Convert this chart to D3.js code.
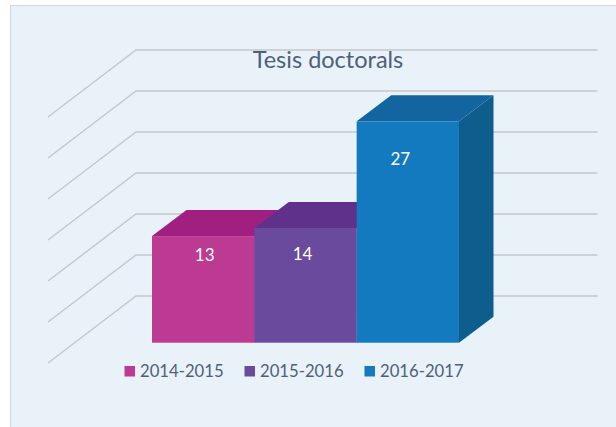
<!DOCTYPE html>
<html>
<head>
<meta charset="utf-8">
<script src="https://cdn.jsdelivr.net/npm/d3@7"></script>
<style>
    html, body { margin: 0; padding: 0; background: #fff; }
    svg { display: block; }
    text { font-family: Lato, "Open Sans", sans-serif; }
</style>
</head>
<body>
<div id="chart"></div>
<script>
var categories = ["2014-2015", "2015-2016", "2016-2017"];
var values = [13, 14, 27];
var chartTitle = "Tesis doctorals";
var valueTicks = [0, 5, 10, 15, 20, 25, 30];

var frontColors = ["#bd3a92", "#6a4a9c", "#147abf"];
var topColors = ["#a21f82", "#5f318a", "#12659f"];
var sideColors = ["#8a1c6c", "#4f2c7a", "#0f5d8d"];

var width = 616, height = 427;

var svg = d3.select("#chart").append("svg")
    .attr("width", width)
    .attr("height", height);

// panel
svg.append("rect")
    .attr("x", 10.5)
    .attr("y", 5.5)
    .attr("width", width)
    .attr("height", height)
    .attr("fill", "#e9f2f9")
    .attr("stroke", "#d6dadc")
    .attr("stroke-width", 1.2);

// back wall, value 0 sits at the back of the floor
var yScale = d3.scaleLinear().domain([0, 30]).range([296, 50]);

var xScale = d3.scaleBand()
    .domain(categories)
    .range([152, 459]);

// depth of the walls and of the bars
var wallDepth = {x: 88, y: 67};
var barDepth = {x: 34.5, y: 26};
var barShift = 46.7;

var grid = svg.append("g").attr("class", "grid");

grid.selectAll("polyline")
    .data(valueTicks)
    .enter().append("polyline")
    .attr("points", function(d) {
        var y = yScale(d);
        return [[136 - wallDepth.x, y + wallDepth.y], [136, y], [597.5, y]].join(" ");
    })
    .attr("fill", "none")
    .attr("stroke", "#c5c7c7")
    .attr("stroke-width", 1.4);

var data = categories.map(function(c, i) {
    return {category: c, value: values[i], i: i};
});

var bars = svg.selectAll(".bar")
    .data(data)
    .enter().append("g")
    .attr("class", "bar");

function barBox(d) {
    var x0 = xScale(d.category);
    return {
        x0: x0,
        x1: x0 + xScale.bandwidth(),
        top: yScale(d.value) + barShift,
        bottom: yScale(0) + barShift
    };
}

// side
bars.append("polygon")
    .attr("points", function(d) {
        var b = barBox(d);
        return [[b.x1, b.top], [b.x1 + barDepth.x, b.top - barDepth.y],
            [b.x1 + barDepth.x, b.bottom - barDepth.y], [b.x1, b.bottom]].join(" ");
    })
    .attr("fill", function(d) { return sideColors[d.i]; });

// top
bars.append("polygon")
    .attr("points", function(d) {
        var b = barBox(d);
        return [[b.x0, b.top], [b.x0 + barDepth.x, b.top - barDepth.y],
            [b.x1 + barDepth.x, b.top - barDepth.y], [b.x1, b.top]].join(" ");
    })
    .attr("fill", function(d) { return topColors[d.i]; });

// front
bars.append("rect")
    .attr("x", function(d) { return barBox(d).x0; })
    .attr("y", function(d) { return barBox(d).top; })
    .attr("width", xScale.bandwidth())
    .attr("height", function(d) { var b = barBox(d); return b.bottom - b.top; })
    .attr("fill", function(d) { return frontColors[d.i]; });

// data labels were placed by hand in the original
var labelOffset = [{x: 1.5, y: 24.5}, {x: -3, y: 32.5}, {x: -7.5, y: 44}];

svg.selectAll(".value-label")
    .data(data)
    .enter().append("text")
    .attr("class", "value-label")
    .attr("x", function(d) { return xScale(d.category) + xScale.bandwidth() / 2 + labelOffset[d.i].x; })
    .attr("y", function(d) { return barBox(d).top + labelOffset[d.i].y; })
    .attr("text-anchor", "middle")
    .attr("font-size", 17)
    .attr("fill", "#fff")
    .text(function(d) { return d.value; });

svg.append("text")
    .attr("x", 328)
    .attr("y", 68)
    .attr("text-anchor", "middle")
    .attr("font-size", 23.5)
    .attr("fill", "#4e6079")
    .text(chartTitle);

// legend
var legendX = d3.scalePoint()
    .domain(categories)
    .range([124.5, 364.5]);

var legend = svg.selectAll(".legend-item")
    .data(data)
    .enter().append("g")
    .attr("class", "legend-item")
    .attr("transform", function(d) { return "translate(" + legendX(d.category) + ",366)"; });

legend.append("rect")
    .attr("width", 10.5)
    .attr("height", 10.5)
    .attr("fill", function(d) { return frontColors[d.i]; });

legend.append("text")
    .attr("x", 15.5)
    .attr("y", 11)
    .attr("font-size", 16.7)
    .attr("fill", "#4e6079")
    .text(function(d) { return d.category; });
</script>
</body>
</html>
